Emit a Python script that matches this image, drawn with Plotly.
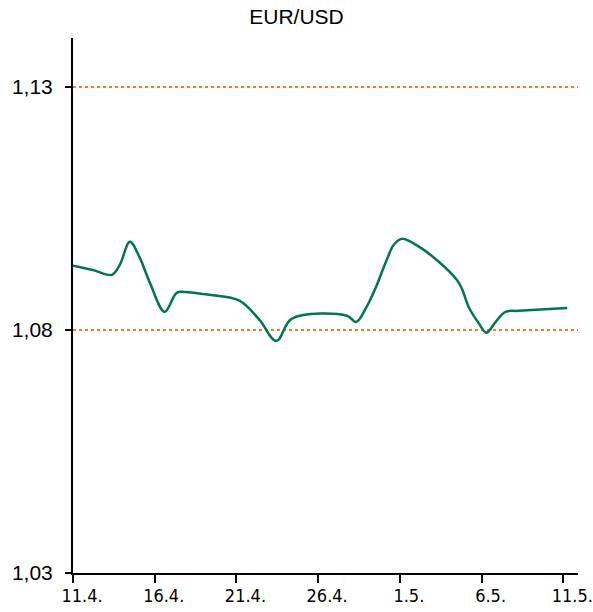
import plotly.graph_objects as go

# days after 11.4.
day_offsets = [0, 1.22, 2.38, 2.87, 3.48, 4.09, 4.7, 5.61, 6.34, 6.83, 8.35, 10.18, 11.4,
               12.44, 13.4, 16.77, 17.32, 17.93, 18.54, 19.15, 19.63, 20.12, 21.16, 22.38,
               23.48, 23.78, 24.21, 24.82, 25.3, 25.85, 26.46, 27.26, 30.24]
eur_usd = [1.0932, 1.0923, 1.0913, 1.0934, 1.0981, 1.0948, 1.0897, 1.0837, 1.0876, 1.0878,
           1.0872, 1.0860, 1.0821, 1.0777, 1.0823, 1.0829, 1.0816, 1.0845, 1.0888, 1.0940,
           1.0975, 1.0987, 1.0971, 1.0940, 1.0903, 1.0886, 1.0847, 1.0814, 1.0794, 1.0816,
           1.0837, 1.0839, 1.0845]

x_tick_vals = [0, 5, 10, 15, 20, 25, 30]
x_tick_text = ["11.4.", "16.4.", "21.4.", "26.4.", "1.5.", "6.5.", "11.5."]
y_tick_vals = [1.03, 1.08, 1.13]
y_tick_text = ["1,03", "1,08", "1,13"]

fig = go.Figure()
fig.add_trace(go.Scatter(
    x=day_offsets, y=eur_usd, mode="lines",
    line=dict(color="#00784A", width=2.5, shape="spline", smoothing=1.0),
    hoverinfo="skip", showlegend=False,
))

fig.update_layout(
    width=593, height=612,
    margin=dict(l=73, r=15, t=38, b=39, autoexpand=False),
    paper_bgcolor="white", plot_bgcolor="white",
    title=dict(text="EUR/USD", x=0.5, xanchor="center", xref="container",
               y=0.973, yanchor="middle", yref="container", automargin=False,
               font=dict(family="Liberation Sans, Arial", size=21, color="black")),
    xaxis=dict(range=[0, 30.9], tickvals=x_tick_vals, ticktext=x_tick_text,
               showgrid=False, zeroline=False, automargin=False,
               showline=True, linecolor="black", linewidth=2,
               ticks="outside", ticklen=8, tickwidth=2, tickcolor="black",
               ticklabelshift=9, ticklabelstandoff=-3, ticklabeloverflow="allow",
               tickfont=dict(family="DejaVu Sans Condensed, DejaVu Sans", size=18, color="black")),
    yaxis=dict(range=[1.03, 1.14], tickvals=y_tick_vals, ticktext=y_tick_text,
               showgrid=True, gridcolor="#F07B2C", gridwidth=2, griddash="dot",
               zeroline=False, automargin=False,
               showline=True, linecolor="black", linewidth=2,
               ticks="outside", ticklen=6, tickwidth=2, tickcolor="black",
               ticklabelstandoff=8,
               tickfont=dict(family="Liberation Sans, Arial", size=21, color="black")),
)

fig.write_html("out.html", config={"displayModeBar": False},
               post_script="document.body.style.margin='0';document.body.style.overflow='hidden';")
